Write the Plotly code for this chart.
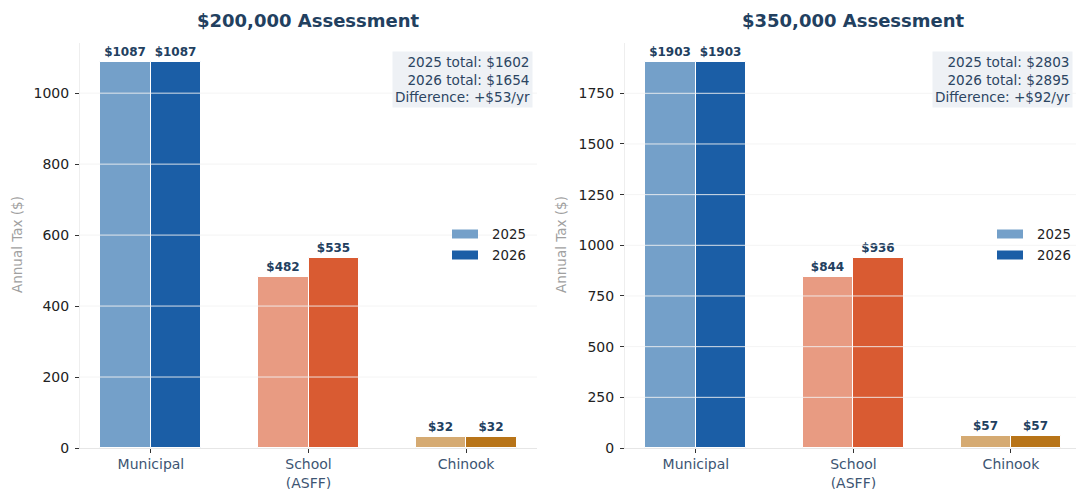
import plotly.graph_objects as go

categories = ["Municipal", "School<br>(ASFF)", "Chinook"]
years = ["2025", "2026"]
vals_200k_2025 = [1087, 482, 32]
vals_200k_2026 = [1087, 535, 32]
vals_350k_2025 = [1903, 844, 57]
vals_350k_2026 = [1903, 936, 57]
totals_200k = [1602, 1654, 53]
totals_350k = [2803, 2895, 92]
titles = ["$200,000 Assessment", "$350,000 Assessment"]
ticks_left = [0, 200, 400, 600, 800, 1000]
ticks_right = [0, 250, 500, 750, 1000, 1250, 1500, 1750]

colors_2025 = ["#74a0c9", "#e89b82", "#d5aa72"]
colors_2026 = ["#1b5ea6", "#d95b32", "#b87418"]

FONT = "DejaVu Sans"
NAVY = "#22405f"
W, H = 1076, 489

fig = go.Figure()

# left panel: full axis 80..537 px; right panel: axis 625..1082 px, cropped at figure edge (1076)
panels = [
    dict(v25=vals_200k_2025, v26=vals_200k_2026, tot=totals_200k, ticks=ticks_left,
         xa="x", ya="y", xdom=[80 / W, 537 / W], xrange=[-0.45, 2.45],
         title_cx=308.5, box_r=533, leg_x=452, ylab_x=17),
    dict(v25=vals_350k_2025, v26=vals_350k_2026, tot=totals_350k, ticks=ticks_right,
         xa="x2", ya="y2", xdom=[625 / W, 1.0], xrange=[-0.45, 2.413],
         title_cx=853.5, box_r=1073, leg_x=997, ylab_x=561),
]

ydom = [(H - 448) / H, (H - 43) / H]
xs = list(range(len(categories)))
bw = 0.32

annotations = []
shapes = []
for i, p in enumerate(panels):
    for yr, vals, cols, off in [(years[0], p["v25"], colors_2025, -bw), (years[1], p["v26"], colors_2026, 0)]:
        fig.add_trace(go.Bar(
            x=xs, y=vals, name=yr, width=bw, offset=off,
            marker=dict(color=cols, line=dict(color="white", width=1)),
            text=[f"${v}" for v in vals], textposition="outside",
            textfont=dict(family=FONT, size=12, color=NAVY, weight="bold"),
            cliponaxis=False, showlegend=False,
            xaxis=p["xa"], yaxis=p["ya"],
            hoverinfo="skip",
        ))
    ymax = max(p["v25"] + p["v26"]) * 1.05
    axn = "" if i == 0 else "2"
    fig.update_layout(**{
        f"xaxis{axn}": dict(
            domain=p["xdom"], anchor=f"y{axn}", range=p["xrange"], automargin=False,
            tickvals=xs, ticktext=categories, showgrid=False, zeroline=False,
            showline=True, linecolor="#e6e6e6", linewidth=1,
            ticks="outside", ticklen=3.5, tickcolor="#333", tickwidth=1,
            ticklabelstandoff=0,
            tickfont=dict(family=FONT, size=14, color="#3d5573"),
        ),
        f"yaxis{axn}": dict(
            domain=ydom, anchor=f"x{axn}", range=[0, ymax], automargin=False,
            tickvals=p["ticks"], showgrid=False, zeroline=False,
            showline=True, linecolor="#eeeeee", linewidth=1,
            ticks="outside", ticklen=4, tickcolor="#333", tickwidth=1,
            ticklabelstandoff=3,
            tickfont=dict(family=FONT, size=14, color="#222"),
        ),
    })
    # horizontal gridlines drawn above bars
    for t in p["ticks"][1:]:
        shapes.append(dict(type="line", xref=f"x{axn} domain", yref=f"y{axn}",
                           x0=0, x1=1, y0=t, y1=t, layer="above",
                           line=dict(color="rgba(242,242,242,0.88)", width=1)))
    annotations.append(dict(text=f"<b>{titles[i]}</b>", x=p["title_cx"] / W, y=(H - 21) / H,
                            xref="paper", yref="paper",
                            showarrow=False, xanchor="center", yanchor="middle",
                            font=dict(family=FONT, size=18, color=NAVY)))
    annotations.append(dict(text="Annual Tax ($)", x=p["ylab_x"] / W, y=(H - 245) / H,
                            xref="paper", yref="paper", textangle=-90, showarrow=False,
                            xanchor="center", yanchor="middle",
                            font=dict(family=FONT, size=13.5, color="#a0a0a0")))
    tot = p["tot"]
    annotations.append(dict(
        text=f"2025 total: ${tot[0]}<br>2026 total: ${tot[1]}<br>Difference: +${tot[2]}/yr",
        x=p["box_r"] / W, y=(H - 51) / H, xref="paper", yref="paper",
        xanchor="right", yanchor="top", align="right", showarrow=False,
        bgcolor="#eef1f5", borderpad=2,
        font=dict(family=FONT, size=13.6, color="#2c4562")))
    # legend (matplotlib-style wide patches)
    lx = p["leg_x"]
    for j, (yr, col) in enumerate([(years[0], colors_2025[0]), (years[1], colors_2026[0])]):
        cy = 234 + 21 * j
        shapes.append(dict(type="rect", xref="paper", yref="paper",
                           x0=lx / W, x1=(lx + 26) / W, y0=(H - cy - 4.5) / H, y1=(H - cy + 4.5) / H,
                           fillcolor=col, line=dict(width=0)))
        annotations.append(dict(text=yr, x=(lx + 38) / W, y=(H - cy) / H, xref="paper", yref="paper",
                                xanchor="left", yanchor="middle", showarrow=False,
                                font=dict(family=FONT, size=13.3, color="#222")))

fig.update_layout(
    width=W, height=H,
    margin=dict(l=0, r=0, t=0, b=0, autoexpand=False),
    paper_bgcolor="white", plot_bgcolor="white",
    font=dict(family=FONT),
    bargap=0, bargroupgap=0,
    showlegend=False,
    annotations=annotations, shapes=shapes,
)

fig.write_html("out.html", config={"displayModeBar": False},
               post_script="document.body.style.margin='0px';document.body.style.overflow='hidden';")
